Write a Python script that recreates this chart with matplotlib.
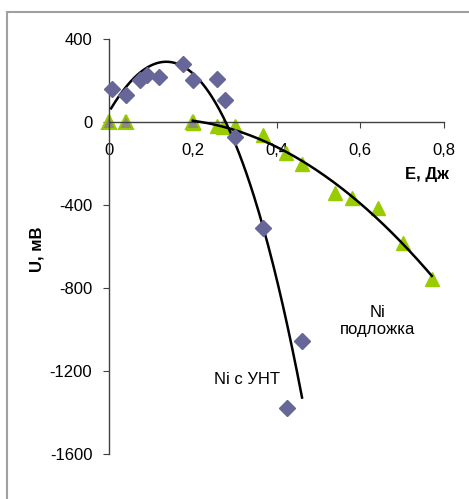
import numpy as np
import matplotlib.pyplot as plt
from matplotlib.patches import Rectangle

plt.rcParams['font.family'] = ['Liberation Sans', 'DejaVu Sans']

# Ni с УНТ (ромбы)
e_unt = [0.007, 0.041, 0.074, 0.090, 0.120, 0.176, 0.200, 0.258, 0.277, 0.300, 0.368, 0.425, 0.461]
u_unt = [159, 130, 202, 227, 217, 280, 202, 207, 106, -72, -511, -1378, -1055]

# Ni подложка (треугольники)
e_sub = [0.200, 0.258, 0.273, 0.300, 0.368, 0.423, 0.461, 0.540, 0.580, 0.642, 0.702, 0.771]
u_sub = [-5, -19, -24, -19, -63, -150, -202, -342, -366, -415, -583, -757]

# points a zero (remplissage gris)
e_zero = [0.0, 0.04, 0.2]
u_zero = [0, 0, 0]

xticks = [0, 0.2, 0.4, 0.6, 0.8]
xlabels = ['0', '0,2', '0,4', '0,6', '0,8']
yticks = [400, 0, -400, -800, -1200, -1600]
ylabels = ['400', '0', '-400', '-800', '-1200', '-1600']

W, H = 469, 499
fig = plt.figure(figsize=(W / 100, H / 100), dpi=100)
ax = fig.add_axes([109 / W, 1 - 454 / H, 335 / W, 415 / H])

# courbes de tendance polynomiales
p_unt = np.polyfit(e_unt, u_unt, 3)
xs = np.linspace(min(e_unt) - 0.002, max(e_unt), 200)
ax.plot(xs, np.polyval(p_unt, xs), color='black', lw=1.8, zorder=3)

p_sub = np.polyfit(e_sub, u_sub, 2)
xs2 = np.linspace(min(e_sub), max(e_sub), 200)
ax.plot(xs2, np.polyval(p_sub, xs2), color='black', lw=1.8, zorder=3)

ax.plot(e_unt, u_unt, 'D', color='#666699', ms=8.5, mec='#666699', zorder=4, clip_on=False)
ax.plot(e_sub, u_sub, '^', color='#99cc00', ms=10, mec='#99cc00', zorder=2, clip_on=False)
ax.plot(e_zero, u_zero, '^', color='#8c8c80', ms=10, mec='#99cc00', mew=1.5, zorder=2, clip_on=False)

ax.set_xlim(0, 0.8)
ax.set_ylim(-1600, 400)
ax.spines['top'].set_visible(False)
ax.spines['right'].set_visible(False)
ax.spines['bottom'].set_position(('data', 0))
for s in ['left', 'bottom']:
    ax.spines[s].set_color('#404040')
    ax.spines[s].set_linewidth(1)
ax.set_xticks(xticks)
ax.set_xticklabels(xlabels)
ax.set_yticks(yticks)
ax.set_yticklabels(ylabels)
ax.tick_params(axis='x', direction='out', length=4, pad=11, labelsize=12, color='#404040')
ax.tick_params(axis='y', direction='out', length=4, pad=8, labelsize=12, color='#404040')

ax.text(0.33, -1239, 'Ni с УНТ', ha='center', va='center', fontsize=12)
ax.text(0.642, -959, 'Ni\nподложка', ha='center', va='center', fontsize=12, linespacing=1.1)

fig.text(427 / W, 1 - 175 / H, 'E, Дж', ha='center', va='center', fontsize=12, fontweight='bold')
fig.text(37 / W, 1 - 249 / H, 'U, мВ', ha='center', va='center', fontsize=12, fontweight='bold', rotation=90)

# cadre exterieur (coupé a droite et en bas)
fig.patches.append(Rectangle((7 / W, -0.2), 1.2, 1 - 12 / H + 0.2, transform=fig.transFigure,
                             fill=False, edgecolor='#a0a0a0', lw=1.5))

fig.savefig('out.png', dpi=100)
